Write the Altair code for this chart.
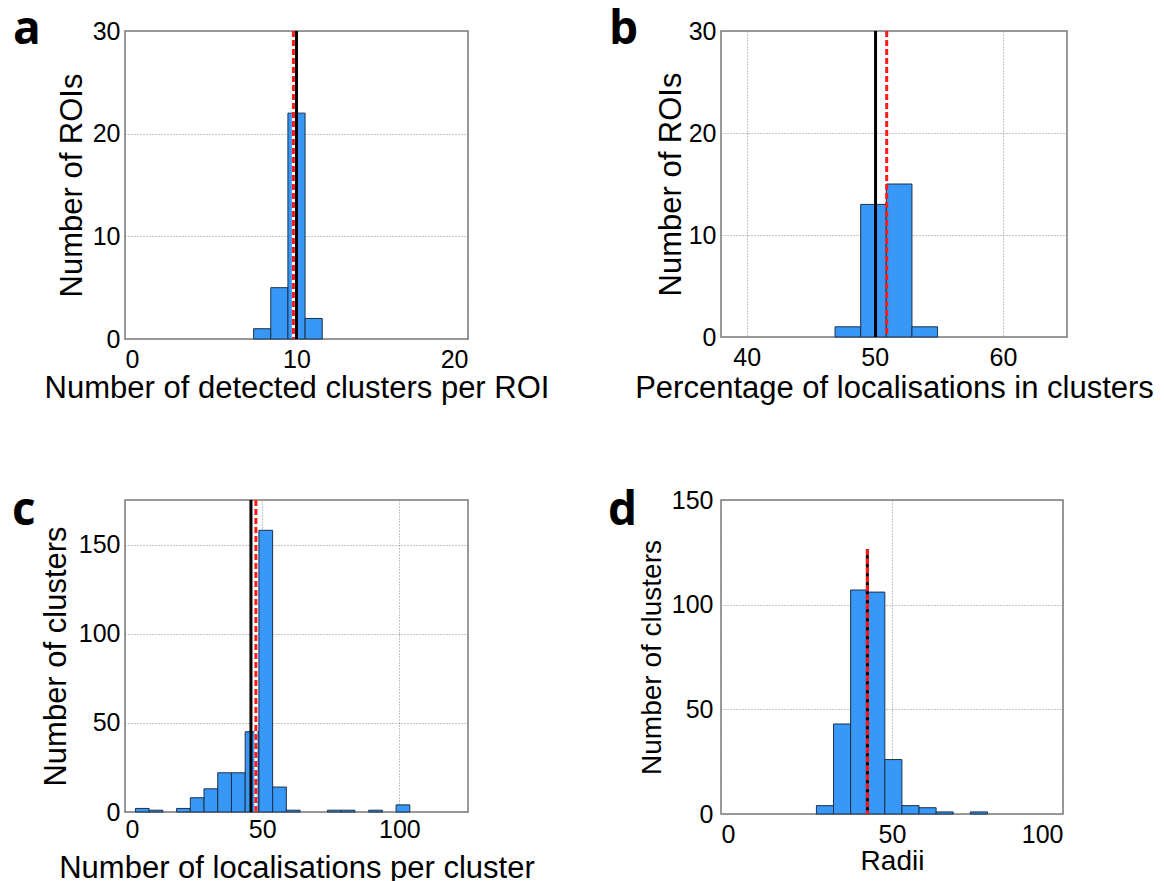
import altair as alt
import pandas as pd

# ---------------- data ----------------
# panel a: Number of detected clusters per ROI
a_bin_start = [7.5, 8.5, 9.5, 10.5]
a_bin_end = [8.5, 9.5, 10.5, 11.5]
a_counts = [1, 5, 22, 2]
a_median, a_mean = 10.0, 9.82

# panel b: Percentage of localisations in clusters
b_bin_start = [46.9, 48.9, 50.9, 52.9]
b_bin_end = [48.9, 50.9, 52.9, 54.9]
b_counts = [1, 13, 15, 1]
b_median, b_mean = 50.06, 50.93

# panel c: Number of localisations per cluster
c_bin_start = [3.8, 8.8, 13.8, 18.8, 23.8, 28.8, 33.8, 38.8, 43.8, 48.8,
               53.8, 58.8, 63.8, 68.8, 73.8, 78.8, 83.8, 88.8, 93.8, 98.8]
c_bin_end = [8.8, 13.8, 18.8, 23.8, 28.8, 33.8, 38.8, 43.8, 48.8, 53.8,
             58.8, 63.8, 68.8, 73.8, 78.8, 83.8, 88.8, 93.8, 98.8, 103.8]
c_counts = [2, 1, 0, 2, 8, 13, 22, 22, 45, 158, 14, 1, 0, 0, 1, 1, 0, 1, 0, 4]
c_median, c_mean = 45.9, 47.7

# panel d: Radii
d_bin_start = [27.9, 32.9, 37.9, 42.9, 47.9, 52.9, 57.9, 62.9, 67.9, 72.9]
d_bin_end = [32.9, 37.9, 42.9, 47.9, 52.9, 57.9, 62.9, 67.9, 72.9, 77.9]
d_counts = [4, 43, 107, 106, 26, 4, 3, 1, 0, 1]
d_median, d_mean = 42.8, 42.8

BLUE = "#3798f8"
EDGE = "#1d3047"
FONT = "Liberation Sans"


def panel(letter, starts, ends, counts, xdom, ydom, xticks, yticks,
          xtitle, ytitle, median, mean, line_top, w, h,
          title_size, ytitle_x, xtitle_y, letter_xy, white_under,
          xlabel_pad=8, ylabel_pad=5):
    bars_df = pd.DataFrame({"x0": starts, "x1": ends, "n": counts})
    bars_df = bars_df[bars_df["n"] > 0]
    xs = alt.Scale(domain=xdom, nice=False, zero=False)
    ys = alt.Scale(domain=ydom, nice=False, zero=False)
    xaxis = alt.Axis(values=xticks, title=xtitle, titleFontSize=title_size,
                     titleY=xtitle_y, titleBaseline="alphabetic",
                     labelPadding=xlabel_pad, format="d")
    yaxis = alt.Axis(values=yticks, title=ytitle, titleFontSize=title_size,
                     titleX=ytitle_x, titleBaseline="alphabetic",
                     labelPadding=ylabel_pad, format="d")

    X = alt.X("x0:Q", scale=xs, axis=xaxis)
    Y = alt.Y("n:Q", scale=ys, axis=yaxis)

    bars = alt.Chart(bars_df).mark_rect(
        fill=BLUE, stroke=EDGE, strokeWidth=1
    ).encode(x=X, x2="x1:Q", y=Y, y2=alt.datum(0))

    med_df = pd.DataFrame({"x0": [median], "n": [line_top]})
    mean_df = pd.DataFrame({"x0": [mean], "n": [line_top]})

    layers = [bars]
    layers.append(alt.Chart(med_df).mark_rule(color="black", strokeWidth=3)
                  .encode(x=X, y=Y, y2=alt.datum(0)))
    if white_under:
        layers.append(alt.Chart(mean_df).mark_rule(color="white", strokeWidth=3)
                      .encode(x=X, y=Y, y2=alt.datum(0)))
    layers.append(alt.Chart(mean_df).mark_rule(color="#ff1a1a", strokeWidth=3,
                                               strokeDash=[6, 3])
                  .encode(x=X, y=Y, y2=alt.datum(0)))
    lab = alt.Chart(pd.DataFrame({"t": [letter]})).mark_text(
        font="Open Sans", fontSize=46, fontWeight="bold", align="left",
        baseline="alphabetic", color="black"
    ).encode(x=alt.value(letter_xy[0]), y=alt.value(letter_xy[1]), text="t:N")
    layers.append(lab)
    return alt.layer(*layers).properties(width=w, height=h)


pa = panel("a", a_bin_start, a_bin_end, a_counts, [0, 20], [0, 30],
           [0, 10, 20], [0, 10, 20, 30],
           "Number of detected clusters per ROI", "Number of ROIs",
           a_median, a_mean, 30, 343, 308, 31, -44, 58, (-112, 13), True)
pb = panel("b", b_bin_start, b_bin_end, b_counts, [38, 65], [0, 30],
           [40, 50, 60], [0, 10, 20, 30],
           "Percentage of localisations in clusters", "Number of ROIs",
           b_median, b_mean, 30, 346, 306, 31, -41, 60, (-112, 13), False)
pc = panel("c", c_bin_start, c_bin_end, c_counts, [0, 125], [0, 175],
           [0, 50, 100], [0, 50, 100, 150],
           "Number of localisations per cluster", "Number of clusters",
           c_median, c_mean, 175, 343, 312, 31, -60, 65, (-113, 25), True,
           xlabel_pad=5)
pd_ = panel("d", d_bin_start, d_bin_end, d_counts, [0, 100], [0, 150],
            [0, 50, 100], [0, 50, 100, 150],
            "Radii", "Number of clusters",
            d_median, d_mean, 126.5, 342, 314, 28, -61, 55, (-113, 25), False,
            ylabel_pad=8)

chart = alt.concat(
    pa, pb, pc, pd_, columns=2,
    spacing={"row": 161, "column": 253}, bounds="flush"
).properties(
    padding={"left": 11, "top": 6, "right": 5, "bottom": 5},
    background="white",
).configure_view(
    stroke="#7a7a7a", strokeWidth=1.5
).configure_axis(
    grid=True, gridColor="#8a8a8a", gridDash=[1, 2], gridWidth=1,
    domain=False, ticks=False,
    labelFont=FONT, labelFontSize=25, labelColor="black",
    titleFont=FONT, titleFontWeight="normal", titleColor="black",
)

chart.save("out.html", embed_options={"renderer": "svg", "actions": False})
